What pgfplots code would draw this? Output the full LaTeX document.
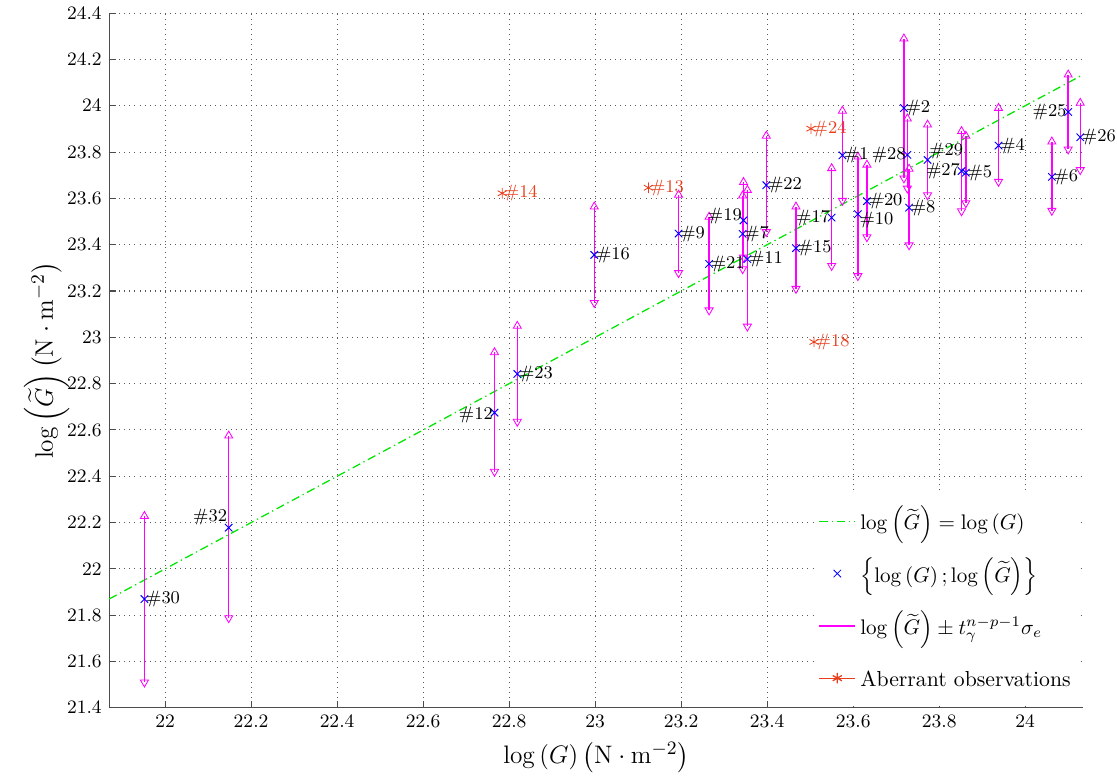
\documentclass[border=0pt]{standalone}
\usepackage{amsmath}
\usepackage{pgfplots}
\pgfplotsset{compat=1.18}
\usepackage{pgfplotstable}
\definecolor{mygreen}{RGB}{0,230,0}
\definecolor{myred}{RGB}{232,62,28}
\definecolor{mymag}{RGB}{255,0,255}
\definecolor{myblue}{RGB}{0,0,255}
\tikzset{lbl/.style={font=\fontsize{8.5}{10}\selectfont, inner sep=0.6pt}}

% id, x, y, lower end, upper end of the interval
\pgfplotstableread{
id x y lo hi
1 23.575 23.786 23.590 23.978
2 23.718 23.990 23.687 24.290
4 23.938 23.828 23.672 23.990
5 23.862 23.711 23.580 23.870
6 24.062 23.693 23.547 23.845
7 23.343 23.447 23.295 23.612
8 23.730 23.560 23.398 23.727
9 23.194 23.448 23.278 23.615
10 23.611 23.532 23.265 23.780
11 23.354 23.338 23.047 23.636
12 22.766 22.675 22.420 22.935
15 23.467 23.385 23.210 23.564
16 22.998 23.356 23.149 23.564
17 23.550 23.517 23.309 23.730
19 23.345 23.505 23.345 23.670
20 23.632 23.588 23.433 23.745
21 23.265 23.317 23.117 23.520
22 23.398 23.657 23.455 23.870
23 22.819 22.842 22.636 23.049
25 24.100 23.973 23.812 24.134
26 24.128 23.864 23.723 24.012
27 23.852 23.718 23.545 23.890
28 23.726 23.788 23.643 23.944
29 23.773 23.766 23.614 23.918
30 21.952 21.870 21.510 22.228
32 22.148 22.178 21.788 22.575
}\pts

% points labelled on their right
\pgfplotstableread{
id x y
1 23.575 23.786
2 23.718 23.990
4 23.938 23.828
5 23.862 23.711
6 24.062 23.693
7 23.343 23.447
8 23.730 23.560
9 23.194 23.448
11 23.354 23.338
15 23.467 23.385
16 22.998 23.356
20 23.632 23.588
21 23.265 23.317
22 23.398 23.657
23 22.819 22.842
26 24.128 23.864
30 21.952 21.870
}\labW

% points labelled on their left
\pgfplotstableread{
id x y
17 23.550 23.517
25 24.100 23.973
27 23.852 23.718
28 23.726 23.788
}\labE

\pgfplotstableread{
id x y
13 23.124 23.646
14 22.784 23.622
18 23.509 22.980
24 23.502 23.901
}\aber

\begin{document}
\begin{tikzpicture}
\begin{axis}[
  scale only axis, width=462pt, height=329.5pt,
  xmin=21.87, xmax=24.135, ymin=21.4, ymax=24.4,
  axis x line*=bottom, axis y line*=left,
  axis line style={black!70, line width=0.5pt},
  xtick={22,22.2,22.4,22.6,22.8,23,23.2,23.4,23.6,23.8,24},
  ytick={21.4,21.6,21.8,22,22.2,22.4,22.6,22.8,23,23.2,23.4,23.6,23.8,24,24.2,24.4},
  grid=major, major grid style={black!65, dotted, line width=0.5pt},
  tick style={black!70, line width=0.5pt}, major tick length=3.3pt,
  tick align=inside,
  tick label style={font=\fontsize{9.5}{11}\selectfont},
  label style={font=\fontsize{13}{15}\selectfont},
  ylabel shift=-8pt,
  xlabel={$\log\left(G\right)\left(\mathrm{N}\cdot\mathrm{m}^{-2}\right)$},
  ylabel={$\log\left(\widetilde{G}\right)\left(\mathrm{N}\cdot\mathrm{m}^{-2}\right)$},
  legend style={at={(0.994,0.0015)}, anchor=south east, draw=none, fill=white,
    inner sep=1pt,
    legend cell align=left, row sep=0pt, font=\fontsize{10.3}{12}\selectfont,
    nodes={text height=14.5pt, text depth=6.3pt}},
]
% legend images
\addlegendimage{color=mygreen, draw=mygreen, line width=0.6pt, dash pattern=on 4pt off 1.8pt on 0.6pt off 1.8pt}
\addlegendentry{$\log\left(\widetilde{G}\right)=\log\left(G\right)$}
\addlegendimage{only marks, mark=x, color=myblue, mark size=2.5pt, mark options={draw=myblue}}
\addlegendentry{$\left\{\log\left(G\right);\log\left(\widetilde{G}\right)\right\}$}
\addlegendimage{color=mymag, draw=mymag, line width=0.7pt}
\addlegendentry{$\log\left(\widetilde{G}\right)\pm t_{\gamma}^{n-p-1}\sigma_e$}
\addlegendimage{color=myred, draw=myred, line width=0.6pt, mark=asterisk, mark size=2.5pt}
\addlegendentry{Aberrant observations}

% identity line
\addplot[forget plot, color=mygreen, draw=mygreen, line width=0.6pt, dash pattern=on 4pt off 1.8pt on 0.6pt off 1.8pt]
  coordinates {(21.87,21.87) (24.13,24.13)};

% error bars (no line, no marks: only the vertical intervals)
\addplot[forget plot, draw=none, mark=none,
  error bars/.cd, y dir=both, y explicit, error mark=none,
  error bar style={color=mymag, draw=mymag, line width=0.7pt, solid}]
  table[x=x, y=y, y error plus expr={\thisrow{hi}-\thisrow{y}}, y error minus expr={\thisrow{y}-\thisrow{lo}}] {\pts};
\addplot[forget plot, only marks, mark=triangle, mark size=2.2pt, color=mymag,
  mark options={draw=mymag, fill=none, solid}]
  table[x=x, y=hi] {\pts};
\addplot[forget plot, only marks, mark=triangle, mark size=2.2pt, color=mymag,
  mark options={draw=mymag, fill=none, solid, rotate=180}]
  table[x=x, y=lo] {\pts};

% blue points, labelled
\addplot[forget plot, only marks, mark=x, mark size=2.5pt, color=myblue,
  mark options={draw=myblue, line width=0.45pt},
  point meta=explicit symbolic, nodes near coords={\#\pgfplotspointmeta},
  every node near coord/.append style={lbl, anchor=west, text=black}]
  table[x=x, y=y, meta=id] {\labW};
\addplot[forget plot, only marks, mark=x, mark size=2.5pt, color=myblue,
  mark options={draw=myblue, line width=0.45pt},
  point meta=explicit symbolic, nodes near coords={\#\pgfplotspointmeta},
  every node near coord/.append style={lbl, anchor=east, text=black}]
  table[x=x, y=y, meta=id] {\labE};
\addplot[forget plot, only marks, mark=x, mark size=2.5pt, color=myblue,
  mark options={draw=myblue, line width=0.45pt},
  point meta=explicit symbolic, nodes near coords={\#\pgfplotspointmeta},
  every node near coord/.append style={lbl, anchor=west, yshift=-3pt, text=black}]
  coordinates {(23.611,23.532) [10]};
\addplot[forget plot, only marks, mark=x, mark size=2.5pt, color=myblue,
  mark options={draw=myblue, line width=0.45pt},
  point meta=explicit symbolic, nodes near coords={\#\pgfplotspointmeta},
  every node near coord/.append style={lbl, anchor=east, yshift=-1pt, text=black}]
  coordinates {(22.766,22.675) [12]};
\addplot[forget plot, only marks, mark=x, mark size=2.5pt, color=myblue,
  mark options={draw=myblue, line width=0.45pt},
  point meta=explicit symbolic, nodes near coords={\#\pgfplotspointmeta},
  every node near coord/.append style={lbl, anchor=east, yshift=2pt, text=black}]
  coordinates {(23.345,23.505) [19]};
\addplot[forget plot, only marks, mark=x, mark size=2.5pt, color=myblue,
  mark options={draw=myblue, line width=0.45pt},
  point meta=explicit symbolic, nodes near coords={\#\pgfplotspointmeta},
  every node near coord/.append style={lbl, anchor=west, yshift=4pt, text=black}]
  coordinates {(23.773,23.766) [29]};
\addplot[forget plot, only marks, mark=x, mark size=2.5pt, color=myblue,
  mark options={draw=myblue, line width=0.45pt},
  point meta=explicit symbolic, nodes near coords={\#\pgfplotspointmeta},
  every node near coord/.append style={lbl, anchor=east, yshift=5pt, text=black}]
  coordinates {(22.148,22.178) [32]};

% aberrant observations
\addplot[forget plot, only marks, mark=asterisk, mark size=2.5pt, color=myred,
  mark options={draw=myred},
  point meta=explicit symbolic, nodes near coords={\#\pgfplotspointmeta},
  every node near coord/.append style={lbl, anchor=west}]
  table[x=x, y=y, meta=id] {\aber};
\end{axis}
\path ([xshift=8pt]current axis.south east);
\path ([xshift=-8pt]current axis.outer south west);
\end{tikzpicture}
\end{document}
